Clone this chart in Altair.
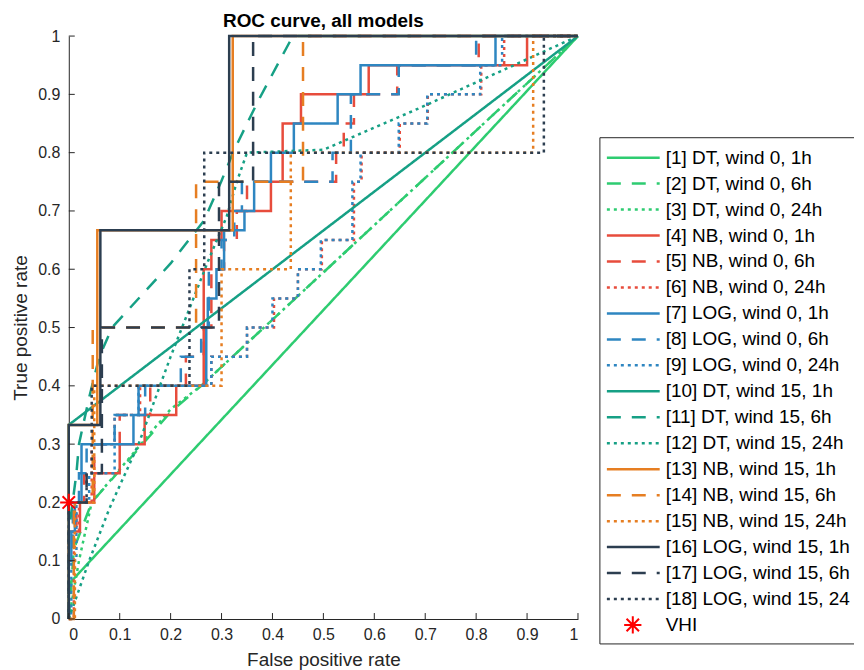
import altair as alt
import pandas as pd

# ---------------- data ----------------
LABELS = [
    "[1] DT, wind 0, 1h", "[2] DT, wind 0, 6h", "[3] DT, wind 0, 24h",
    "[4] NB, wind 0, 1h", "[5] NB, wind 0, 6h", "[6] NB, wind 0, 24h",
    "[7] LOG, wind 0, 1h", "[8] LOG, wind 0, 6h", "[9] LOG, wind 0, 24h",
    "[10] DT, wind 15, 1h", "[11] DT, wind 15, 6h", "[12] DT, wind 15, 24h",
    "[13] NB, wind 15, 1h", "[14] NB, wind 15, 6h", "[15] NB, wind 15, 24h",
    "[16] LOG, wind 15, 1h", "[17] LOG, wind 15, 6h", "[18] LOG, wind 15, 24h",
    "VHI",
]
TITLE = "ROC curve, all models"
GREEN, RED, BLUE = "#2ECC71", "#E74C3C", "#2E86C1"
TEAL, ORANGE, NAVY = "#16A085", "#E67E22", "#2C3E50"
COLORS = [GREEN] * 3 + [RED] * 3 + [BLUE] * 3 + [TEAL] * 3 + [ORANGE] * 3 + [NAVY] * 3
SOLID, DASHED, DOTTED = [1, 0], [14, 11], [3, 4]
DASHES = [SOLID, DASHED, DOTTED] * 6

FPR_01 = [0, 0, 1]
TPR_01 = [0, 0.06, 1]
FPR_02 = [0, 0.01, 0.045, 0.2, 0.26, 1]
TPR_02 = [0, 0.12, 0.2, 0.355, 0.4, 1]
FPR_03 = [0, 0.02, 0.045, 0.2, 0.26, 1]
TPR_03 = [0, 0.1, 0.2, 0.36, 0.4, 1]
FPR_04 = [0, 0, 0.022, 0.022, 0.05, 0.05, 0.1, 0.1, 0.149, 0.149, 0.211, 0.211, 0.265, 0.265,
          0.28, 0.28, 0.3, 0.3, 0.397, 0.397, 0.42, 0.42, 0.456, 0.456, 0.589, 0.589, 0.9, 0.9, 1]
TPR_04 = [0, 0.15, 0.15, 0.2, 0.2, 0.25, 0.25, 0.3, 0.3, 0.35, 0.35, 0.4, 0.4, 0.6,
          0.6, 0.65, 0.65, 0.7, 0.7, 0.75, 0.75, 0.85, 0.85, 0.9, 0.9, 0.95, 0.95, 1, 1]
FPR_05 = [0, 0, 0.015, 0.015, 0.03, 0.03, 0.05, 0.05, 0.1, 0.1, 0.16, 0.16, 0.23, 0.23, 0.265, 0.265,
          0.28, 0.28, 0.305, 0.305, 0.33, 0.33, 0.35, 0.35, 0.525, 0.525, 0.54, 0.54, 0.56, 0.56,
          0.645, 0.645, 0.805, 0.805, 1]
TPR_05 = [0, 0.15, 0.15, 0.2, 0.2, 0.25, 0.25, 0.3, 0.3, 0.35, 0.35, 0.4, 0.4, 0.45, 0.45, 0.5,
          0.5, 0.6, 0.6, 0.65, 0.65, 0.7, 0.7, 0.75, 0.75, 0.8, 0.8, 0.85, 0.85, 0.9,
          0.9, 0.95, 0.95, 1, 1]
FPR_06 = [0, 0.01, 0.01, 0.02, 0.02, 0.045, 0.045, 0.09, 0.09, 0.14, 0.14, 0.28, 0.28, 0.35, 0.35,
          0.403, 0.403, 0.45, 0.45, 0.497, 0.497, 0.56, 0.56, 0.575, 0.575, 0.65, 0.65, 0.705, 0.705,
          0.81, 0.81, 0.855, 0.855, 1]
TPR_06 = [0, 0, 0.15, 0.15, 0.2, 0.2, 0.3, 0.3, 0.35, 0.35, 0.4, 0.4, 0.45, 0.45, 0.5,
          0.5, 0.55, 0.55, 0.6, 0.6, 0.65, 0.65, 0.75, 0.75, 0.8, 0.8, 0.85, 0.85, 0.9,
          0.9, 0.95, 0.95, 1, 1]
FPR_07 = [0, 0, 0.005, 0.005, 0.012, 0.012, 0.025, 0.025, 0.127, 0.127, 0.137, 0.137, 0.27, 0.27,
          0.273, 0.273, 0.29, 0.29, 0.305, 0.305, 0.345, 0.345, 0.364, 0.364, 0.397, 0.397, 0.442, 0.442,
          0.528, 0.528, 0.573, 0.573, 0.838, 0.838, 1]
TPR_07 = [0, 0.1, 0.1, 0.15, 0.15, 0.2, 0.2, 0.3, 0.3, 0.35, 0.35, 0.4, 0.4, 0.5,
          0.5, 0.55, 0.55, 0.6, 0.6, 0.667, 0.667, 0.7, 0.7, 0.75, 0.75, 0.8, 0.8, 0.85,
          0.85, 0.9, 0.9, 0.95, 0.95, 1, 1]
FPR_08 = [0, 0, 0.008, 0.008, 0.02, 0.02, 0.035, 0.035, 0.09, 0.09, 0.15, 0.15, 0.22, 0.22, 0.26, 0.26,
          0.275, 0.275, 0.3, 0.3, 0.325, 0.325, 0.34, 0.34, 0.518, 0.518, 0.554, 0.554, 0.648, 0.648,
          0.8, 0.8, 1]
TPR_08 = [0, 0.1, 0.1, 0.2, 0.2, 0.25, 0.25, 0.3, 0.3, 0.35, 0.35, 0.4, 0.4, 0.45, 0.45, 0.5,
          0.5, 0.6, 0.6, 0.65, 0.65, 0.7, 0.7, 0.75, 0.75, 0.8, 0.8, 0.9, 0.9, 0.95,
          0.95, 1, 1]
FPR_09 = [0, 0.005, 0.005, 0.015, 0.015, 0.04, 0.04, 0.09, 0.09, 0.137, 0.137, 0.28, 0.28, 0.35, 0.35,
          0.4, 0.4, 0.45, 0.45, 0.495, 0.495, 0.557, 0.557, 0.573, 0.573, 0.648, 0.648, 0.704, 0.704,
          0.808, 0.808, 0.851, 0.851, 1]
TPR_09 = [0, 0, 0.1, 0.1, 0.2, 0.2, 0.25, 0.25, 0.35, 0.35, 0.4, 0.4, 0.45, 0.45, 0.5,
          0.5, 0.55, 0.55, 0.6, 0.6, 0.65, 0.65, 0.75, 0.75, 0.8, 0.8, 0.85, 0.85, 0.9,
          0.9, 0.95, 0.95, 1, 1]
FPR_10 = [0, 0, 1]
TPR_10 = [0, 0.333, 1]
FPR_11 = [0, 0, 0.015, 0.02, 0.04, 0.06, 0.085, 0.2, 0.266, 0.3, 0.325, 0.372, 0.44, 1]
TPR_11 = [0, 0.15, 0.25, 0.3, 0.38, 0.45, 0.5, 0.61, 0.684, 0.752, 0.805, 0.889, 1, 1]
FPR_12 = [0, 0.006, 0.04, 0.08, 0.137, 0.2, 0.274, 0.31, 0.33, 0.35, 0.5, 0.69, 1]
TPR_12 = [0, 0.015, 0.1, 0.19, 0.3, 0.45, 0.615, 0.69, 0.75, 0.8, 0.805, 0.877, 1]
FPR_13 = [0, 0, 0.056, 0.056, 0.322, 0.322, 1]
TPR_13 = [0, 0.333, 0.333, 0.667, 0.667, 1, 1]
FPR_14 = [0, 0.01, 0.01, 0.047, 0.047, 0.25, 0.25, 0.46, 0.46, 1]
TPR_14 = [0, 0, 0.2, 0.2, 0.5, 0.5, 0.75, 0.75, 1, 1]
FPR_15 = [0, 0.012, 0.012, 0.05, 0.05, 0.3, 0.3, 0.436, 0.436, 0.912, 0.912, 1]
TPR_15 = [0, 0, 0.2, 0.2, 0.4, 0.4, 0.6, 0.6, 0.8, 0.8, 1, 1]
FPR_16 = [0, 0, 0.062, 0.062, 0.315, 0.315, 1]
TPR_16 = [0, 0.333, 0.333, 0.667, 0.667, 1, 1]
FPR_17 = [0, 0, 0.035, 0.035, 0.065, 0.065, 0.295, 0.295, 0.362, 0.362, 1]
TPR_17 = [0, 0.2, 0.2, 0.25, 0.25, 0.5, 0.5, 0.75, 0.75, 1, 1]
FPR_18 = [0, 0, 0.035, 0.035, 0.045, 0.045, 0.237, 0.237, 0.266, 0.266, 0.933, 0.933, 1]
TPR_18 = [0, 0.2, 0.2, 0.25, 0.25, 0.4, 0.4, 0.6, 0.6, 0.8, 0.8, 1, 1]

VHI_FPR = [0.0]
VHI_TPR = [0.2]
TICKS = [0, 0.1, 0.2, 0.3, 0.4, 0.5, 0.6, 0.7, 0.8, 0.9, 1]

SERIES = [
    (FPR_01, TPR_01), (FPR_02, TPR_02), (FPR_03, TPR_03), (FPR_04, TPR_04), (FPR_05, TPR_05),
    (FPR_06, TPR_06), (FPR_07, TPR_07), (FPR_08, TPR_08), (FPR_09, TPR_09), (FPR_10, TPR_10),
    (FPR_11, TPR_11), (FPR_12, TPR_12), (FPR_13, TPR_13), (FPR_14, TPR_14), (FPR_15, TPR_15),
    (FPR_16, TPR_16), (FPR_17, TPR_17), (FPR_18, TPR_18),
]
IDS = [f"{i + 1:02d}" for i in range(len(SERIES))]

rows = []
for sid, (fx, fy) in zip(IDS, SERIES):
    for j, (a, b) in enumerate(zip(fx, fy)):
        rows.append({"sid": sid, "step": j, "fpr": a, "tpr": b})
df = pd.DataFrame(rows)

# ---------------- styling ----------------
FONT = "Liberation Sans"
AX = "#262626"
LW = 2.5
STAR = "M-1,0L1,0M0,-1L0,1M-0.72,-0.72L0.72,0.72M-0.72,0.72L0.72,-0.72"
TICK_LEN = 6

W, H = 511, 585

color_scale = alt.Scale(domain=IDS, range=COLORS)
dash_scale = alt.Scale(domain=IDS, range=DASHES)
x_scale = alt.Scale(domain=[0, 1], nice=False, zero=False)
y_scale = alt.Scale(domain=[0, 1], nice=False, zero=False)

x_axis = alt.Axis(values=TICKS, format="~g", title="False positive rate", grid=False,
                  tickSize=0, labelPadding=8, titlePadding=8, domainColor=AX,
                  labelColor=AX, titleColor=AX, labelFontSize=16, titleFontSize=19,
                  labelFont=FONT, titleFont=FONT, titleFontWeight="normal")
y_axis = alt.Axis(values=TICKS, format="~g", title="True positive rate", grid=False,
                  tickSize=0, labelPadding=9, titlePadding=7, domainColor=AX,
                  labelColor=AX, titleColor=AX, labelFontSize=16, titleFontSize=19,
                  labelFont=FONT, titleFont=FONT, titleFontWeight="normal")

X_ENC = alt.X("fpr:Q", scale=x_scale, axis=x_axis)
Y_ENC = alt.Y("tpr:Q", scale=y_scale, axis=y_axis)

lines = alt.Chart(df).mark_line(strokeWidth=LW, strokeCap="butt", strokeJoin="miter").encode(
    x=X_ENC, y=Y_ENC,
    color=alt.Color("sid:N", scale=color_scale, legend=None),
    strokeDash=alt.StrokeDash("sid:N", scale=dash_scale, legend=None),
    order=alt.Order("step:Q"),
)

# inward ticks (MATLAB style)
xt = pd.DataFrame({"fpr": TICKS, "tpr": [0] * len(TICKS), "tpr2": [TICK_LEN / H] * len(TICKS)})
yt = pd.DataFrame({"tpr": TICKS, "fpr": [0] * len(TICKS), "fpr2": [TICK_LEN / W] * len(TICKS)})
xticks = alt.Chart(xt).mark_rule(color=AX, strokeWidth=1).encode(x=X_ENC, y=Y_ENC, y2="tpr2:Q")
yticks = alt.Chart(yt).mark_rule(color=AX, strokeWidth=1).encode(y=Y_ENC, x=X_ENC, x2="fpr2:Q")

vhi = alt.Chart(pd.DataFrame({"fpr": VHI_FPR, "tpr": VHI_TPR})).mark_point(
    shape=STAR, size=300, filled=False, color="#FF0000", strokeWidth=2, opacity=1
).encode(x=X_ENC, y=Y_ENC)

main = alt.layer(lines, xticks, yticks, vhi)

# ---------------- legend + title (manual, MATLAB style) ----------------
LEG_LEFT, LEG_RIGHT, LEG_TOP, LEG_BOT = 533, 788, 102, 610
ROW0, ROW1 = 122, 591
SX0, SX1, TX, STARX = 540, 593, 599, 566

leg_df = pd.DataFrame({"idx": list(range(len(IDS))), "sid": IDS})
txt_df = pd.DataFrame({"idx": list(range(len(LABELS))), "label": LABELS})
star_df = pd.DataFrame({"idx": [len(LABELS) - 1]})
leg_y = alt.Y("idx:Q", scale=alt.Scale(domain=[0, len(LABELS) - 1], range=[ROW0, ROW1]), axis=None)

one = pd.DataFrame({"k": [0]})
box_top = alt.Chart(one).mark_rule(color=AX, strokeWidth=1).encode(
    x=alt.value(LEG_LEFT), x2=alt.value(LEG_RIGHT), y=alt.value(LEG_TOP))
box_bot = alt.Chart(one).mark_rule(color=AX, strokeWidth=1).encode(
    x=alt.value(LEG_LEFT), x2=alt.value(LEG_RIGHT), y=alt.value(LEG_BOT))
box_left = alt.Chart(one).mark_rule(color=AX, strokeWidth=1).encode(
    x=alt.value(LEG_LEFT), y=alt.value(LEG_TOP), y2=alt.value(LEG_BOT))

samples = alt.Chart(leg_df).mark_rule(strokeWidth=LW, strokeCap="butt").encode(
    x=alt.value(SX0), x2=alt.value(SX1), y=leg_y,
    color=alt.Color("sid:N", scale=color_scale, legend=None),
    strokeDash=alt.StrokeDash("sid:N", scale=dash_scale, legend=None),
)
texts = alt.Chart(txt_df).mark_text(align="left", baseline="middle", font=FONT, fontSize=19,
                                    color="black", limit=191, ellipsis=" ").encode(
    x=alt.value(TX), y=leg_y, text="label:N")
leg_star = alt.Chart(star_df).mark_point(shape=STAR, size=300, filled=False, color="#FF0000",
                                         strokeWidth=2, opacity=1).encode(x=alt.value(STARX), y=leg_y)

title_txt = alt.Chart(pd.DataFrame({"t": [TITLE]})).mark_text(
    align="center", baseline="middle", font=FONT, fontSize=19, fontWeight="bold", color="black"
).encode(x=alt.value(W / 2), y=alt.value(-15), text="t:N")

legend = alt.layer(box_top, box_bot, box_left, samples, texts, leg_star, title_txt)

chart = alt.layer(main, legend).resolve_scale(y="independent").properties(
    width=W, height=H,
    padding={"left": 3, "top": 3, "right": 0, "bottom": 0},
).configure_view(stroke=None)

chart.save("out.html", embed_options={"renderer": "svg", "actions": False})
